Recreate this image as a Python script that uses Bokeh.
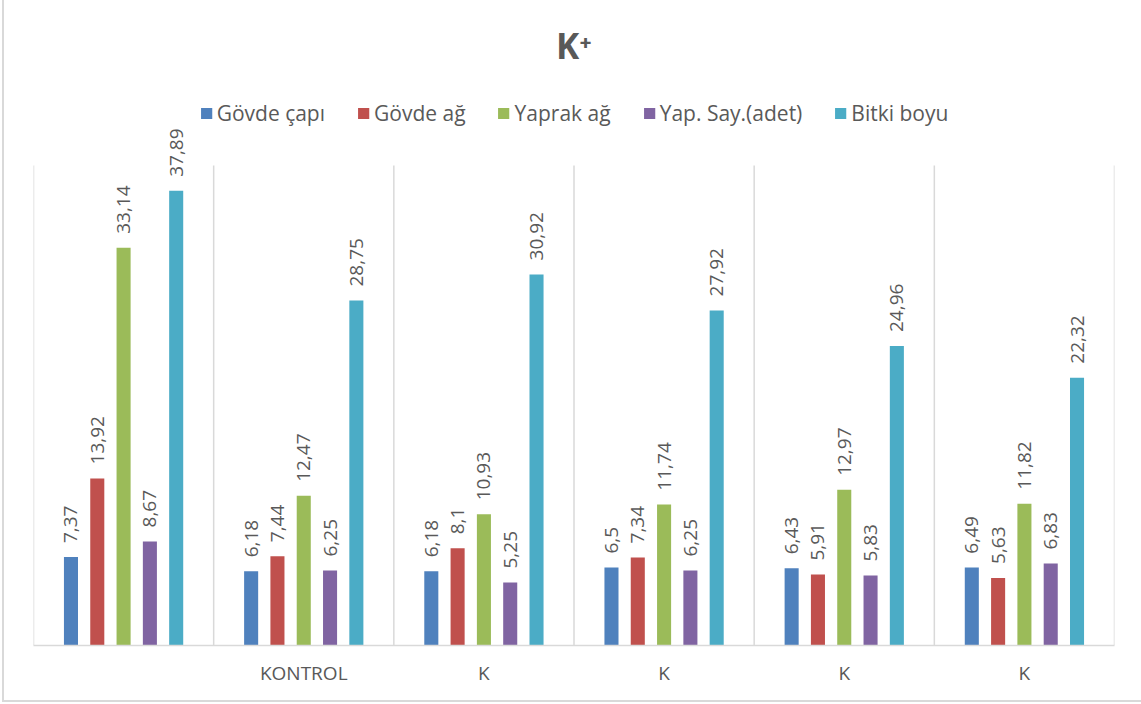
import math

from bokeh.core.properties import value
from bokeh.embed import file_html
from bokeh.models import (ColumnDataSource, FixedTicker, LabelSet, Legend,
                          LegendItem, Range1d)
from bokeh.plotting import figure
from bokeh.resources import INLINE

# Group labels along the x axis (first group has no label)
categories = ["", "KONTROL", "K", "K", "K", "K"]

series_names = ["Gövde çapı", "Gövde ağ", "Yaprak ağ", "Yap. Say.(adet)", "Bitki boyu"]
govde_capi = [7.37, 6.18, 6.18, 6.5, 6.43, 6.49]
govde_ag = [13.92, 7.44, 8.1, 7.34, 5.91, 5.63]
yaprak_ag = [33.14, 12.47, 10.93, 11.74, 12.97, 11.82]
yap_say = [8.67, 6.25, 5.25, 6.25, 5.83, 6.83]
bitki_boyu = [37.89, 28.75, 30.92, 27.92, 24.96, 22.32]

series_values = [govde_capi, govde_ag, yaprak_ag, yap_say, bitki_boyu]
colors = ["#4F81BD", "#C0504D", "#9BBB59", "#8064A2", "#4BACC6"]

FONT = "Open Sans"
TEXT_COLOR = "#595959"
GRID_COLOR = "#D9D9D9"

n_groups = len(categories)
bar_width = 0.078
step = 0.146

# Value axis runs 0..40 over 480 px; the frame also holds the legend strip above it
axis_max = 40.0
px_per_unit = 12.0
legend_strip_px = 97
top_border = 68

p = figure(
    frame_width=1081, frame_height=int(axis_max * px_per_unit) + legend_strip_px,
    x_range=Range1d(0, n_groups),
    y_range=Range1d(0, axis_max + legend_strip_px / px_per_unit),
    output_backend="svg", toolbar_location=None,
    min_border_left=29, min_border_right=27,
    min_border_bottom=55, min_border_top=top_border,
)
p.styles = {
    "margin-left": "2px",
    "border-left": "2px solid #D9D9D9",
    "border-bottom": "2px solid #D9D9D9",
}
p.outline_line_color = None
p.background_fill_color = "white"
p.border_fill_color = "white"

# Title
p.title.text = "K⁺"
p.title.align = "center"
p.title.text_font = FONT
p.title.text_font_size = "35px"
p.title.text_font_style = "bold"
p.title.text_color = TEXT_COLOR
p.title.standoff = 0

# Axes
p.yaxis.visible = False
p.ygrid.visible = False
p.xgrid.visible = False
xa = p.xaxis[0]
xa.ticker = FixedTicker(ticks=[i + 0.5 for i in range(n_groups)])
xa.major_label_overrides = {i + 0.5: c for i, c in enumerate(categories)}
xa.major_tick_line_color = None
xa.minor_tick_line_color = None
xa.axis_line_color = GRID_COLOR
xa.axis_line_width = 1.5
xa.major_label_standoff = 8
xa.major_label_text_font = FONT
xa.major_label_text_font_size = "19px"
xa.major_label_text_color = TEXT_COLOR

# Vertical separators between groups, spanning the value axis only
bounds = list(range(n_groups + 1))
p.segment(x0=bounds, y0=[0] * len(bounds), x1=bounds, y1=[axis_max] * len(bounds),
          line_color=GRID_COLOR, line_width=1.5)

items = []
for k, (name, vals, col) in enumerate(zip(series_names, series_values, colors)):
    offset = (k - (len(series_names) - 1) / 2) * step
    xs = [i + 0.5 + offset for i in range(n_groups)]
    src = ColumnDataSource(dict(
        x=xs, top=vals,
        label=[("%g" % v).replace(".", ",") for v in vals],
    ))
    r = p.vbar(x="x", top="top", width=bar_width, source=src,
               fill_color=col, line_color=None)
    items.append(LegendItem(label=name, renderers=[r]))
    labels = LabelSet(
        x="x", y="top", text="label", source=src,
        angle=math.pi / 2, text_align="left", text_baseline="middle",
        y_offset=14, text_font=value(FONT), text_font_size="19px",
        text_color=TEXT_COLOR,
    )
    p.add_layout(labels)

legend = Legend(
    items=items, orientation="horizontal", location="top_center",
    label_text_font=FONT, label_text_font_size="21px",
    label_text_color=TEXT_COLOR,
    glyph_width=14, glyph_height=14, label_standoff=4, spacing=31,
    border_line_color=None, background_fill_alpha=0,
    margin=31, padding=0,
)
p.add_layout(legend)

open("out.html", "w").write(file_html(p, INLINE))
